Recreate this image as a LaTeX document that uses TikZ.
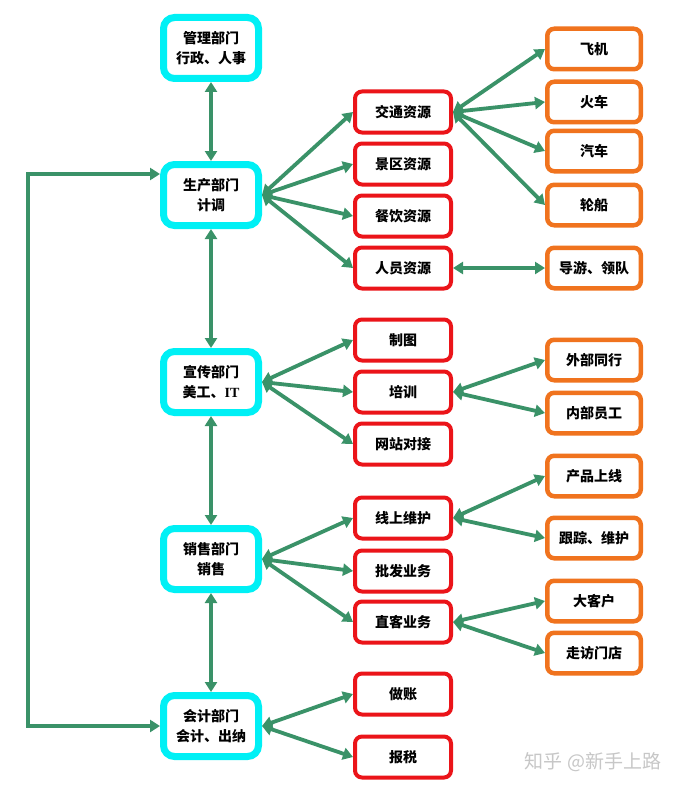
\documentclass[tikz,border=0pt]{standalone}
\usepackage{fontspec}
\setmainfont{Noto Sans CJK SC}
\newfontfamily\latinserif{Liberation Serif}
\usetikzlibrary{arrows.meta}
\definecolor{linkgreen}{RGB}{58,146,104}
\definecolor{deptcyan}{RGB}{0,240,245}
\definecolor{resred}{RGB}{235,20,25}
\definecolor{suborange}{RGB}{240,115,30}

\begin{document}
\begin{tikzpicture}[x=1pt,y=-1pt,
	dept/.style={draw=deptcyan, line width=7pt, rounded corners=11pt, minimum width=95pt, minimum height=61pt, align=center, font=\fontsize{14}{20}\selectfont\bfseries},
	res/.style={draw=resred, line width=4pt, rounded corners=7pt, minimum width=96pt, minimum height=41pt, font=\fontsize{14}{18}\selectfont\bfseries},
	sub/.style={draw=suborange, line width=4.5pt, rounded corners=7pt, minimum width=93.5pt, minimum height=40.5pt, font=\fontsize{14}{18}\selectfont\bfseries},
	link/.style={draw=linkgreen, line width=3.8pt, {Triangle[width=12pt,length=10pt]}-{Triangle[width=12pt,length=10pt]}}]
	\fill[white] (0,0) rectangle (684,789);
	\useasboundingbox (0,0) rectangle (684,789);
	% departments
	\node[dept] (gl) at (211,48) {管理部门\\行政、人事};
	\node[dept] (sc) at (211,195) {生产部门\\计调};
	\node[dept] (xc) at (211,382) {宣传部门\\美工、{\latinserif IT}};
	\node[dept] (xs) at (211,559) {销售部门\\销售};
	\node[dept] (kj) at (211,726) {会计部门\\会计、出纳};
	% resources and tasks
	\node[res] (jt) at (403,112) {交通资源};
	\node[res] (jq) at (403,164) {景区资源};
	\node[res] (cy) at (403,216) {餐饮资源};
	\node[res] (ry) at (403,268) {人员资源};
	\node[res] (zt) at (403,340) {制图};
	\node[res] (px) at (403,392) {培训};
	\node[res] (wz) at (403,444) {网站对接};
	\node[res] (xw) at (403,518) {线上维护};
	\node[res] (pf) at (403,571) {批发业务};
	\node[res] (zk) at (403,622) {直客业务};
	\node[res] (zz) at (403,694) {做账};
	\node[res] (bs) at (403,757) {报税};
	% details
	\node[sub] (fj) at (594,49) {飞机};
	\node[sub] (hc) at (594,102) {火车};
	\node[sub] (qc) at (594,151) {汽车};
	\node[sub] (lc) at (594,205) {轮船};
	\node[sub] (dy) at (594,268) {导游、领队};
	\node[sub] (wb) at (594,360) {外部同行};
	\node[sub] (nb) at (594,413) {内部员工};
	\node[sub] (cp) at (594,476) {产品上线};
	\node[sub] (gz) at (594,538) {跟踪、维护};
	\node[sub] (dk) at (594,601) {大客户};
	\node[sub] (zf) at (594,653) {走访门店};
	\node[text=black!22, font=\fontsize{19}{19}\selectfont] (wm) at (593,762) {知乎 @新手上路};
	% connectors
	\foreach \a/\b in {gl/sc, sc/xc, xc/xs, xs/kj}
		\draw[link] (\a) -- (\b);
	\foreach \r in {jt,jq,cy,ry}
		\draw[link] (sc.east) -- (\r.west);
	\foreach \r in {fj,hc,qc,lc}
		\draw[link] (jt.east) -- (\r.west);
	\draw[link] (ry) -- (dy);
	\foreach \r in {zt,px,wz}
		\draw[link] (xc.east) -- (\r.west);
	\foreach \r in {wb,nb}
		\draw[link] (px.east) -- (\r.west);
	\foreach \r in {xw,pf,zk}
		\draw[link] (xs.east) -- (\r.west);
	\foreach \r in {cp,gz}
		\draw[link] (xw.east) -- (\r.west);
	\foreach \r in {dk,zf}
		\draw[link] (zk.east) -- (\r.west);
	\foreach \r in {zz,bs}
		\draw[link] (kj.east) -- (\r.west);
	% loop on the left
	\coordinate (lt) at (28,174);
	\coordinate (lb) at (28,726);
	\draw[link] (lt -| sc.west) -- (lt) -- (lb) -- (lb -| kj.west);
\end{tikzpicture}
\end{document}
